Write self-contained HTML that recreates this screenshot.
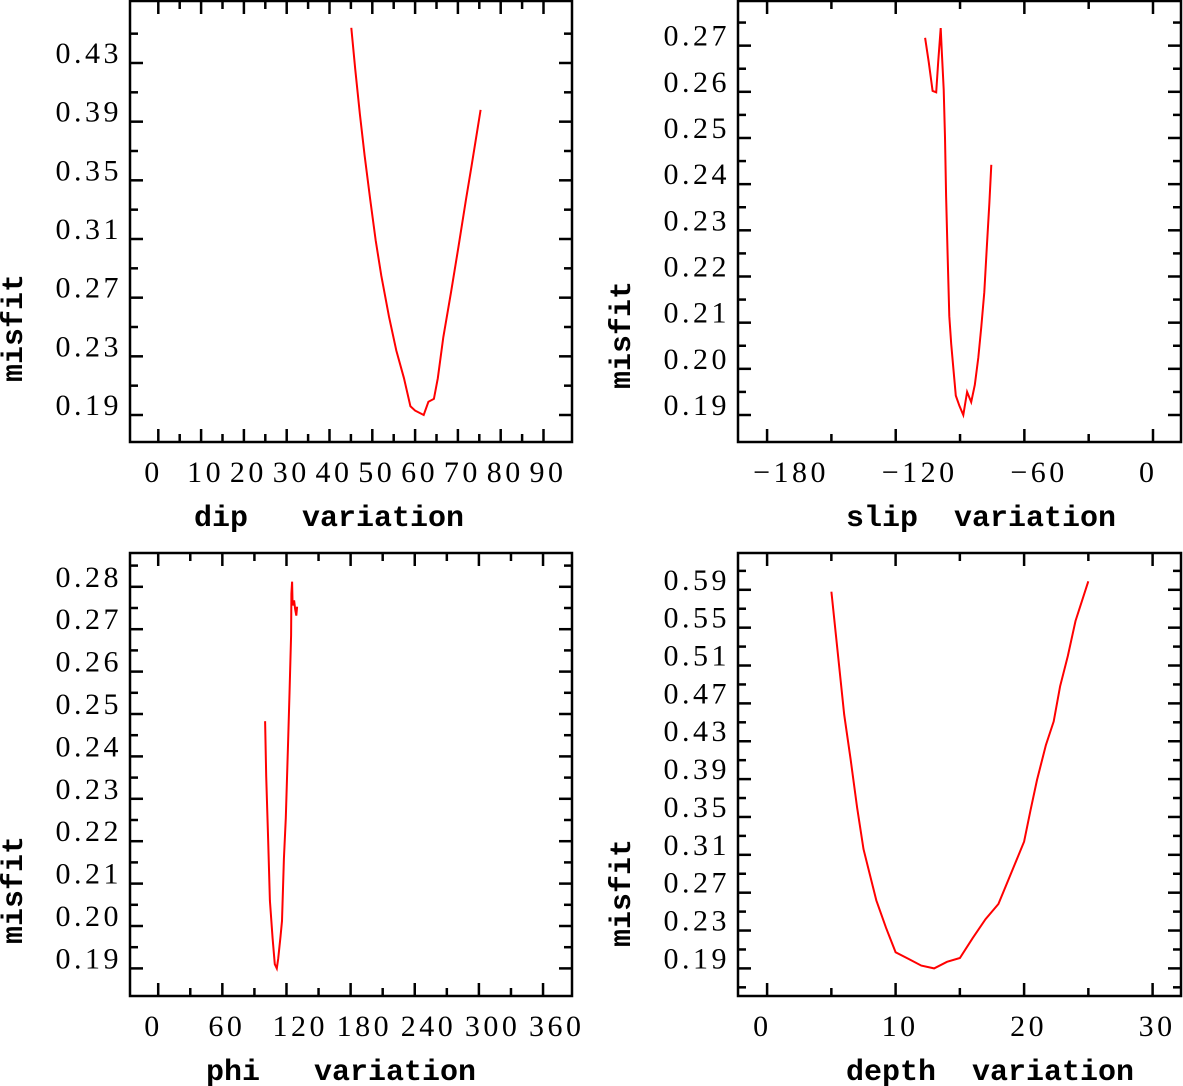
<!DOCTYPE html>
<html><head><meta charset="utf-8"><style>
html,body{margin:0;padding:0;background:#fff;}
svg{display:block;}
.tl{font-family:"Liberation Serif",serif;font-size:30px;fill:#000;letter-spacing:3.5px;}
.tt{font-family:"Liberation Mono",monospace;font-size:30px;font-weight:bold;fill:#000;white-space:pre;}
</style></head><body>
<svg id="fig" width="1183" height="1086" viewBox="0 0 1183 1086" xmlns="http://www.w3.org/2000/svg"></svg>
<script>
// Panel 1: dip variation
const dipX = [45.1,46.0,47.1,48.2,49.5,50.8,52.1,53.9,55.6,57.4,58.9,60.0,62.0,63.1,64.4,65.3,66.6,68.4,70.1,71.9,73.2,75.3];
const dipY = [0.454,0.426,0.395,0.367,0.337,0.309,0.285,0.257,0.234,0.215,0.196,0.193,0.190,0.199,0.201,0.215,0.243,0.274,0.304,0.337,0.360,0.398];
const dipXTicks = ["0","10","20","30","40","50","60","70","80","90"];
const dipYTicks = ["0.19","0.23","0.27","0.31","0.35","0.39","0.43"];
// Panel 2: slip variation
const slipX = [-106.3,-104.6,-102.8,-101.1,-100.2,-99.0,-98.5,-97.6,-97.0,-96.5,-95.8,-95.0,-94.1,-93.0,-92.0,-90.3,-88.5,-86.7,-84.8,-83.1,-81.5,-80.1,-78.7,-77.5,-76.3,-75.4];
const slipY = [0.2717,0.2665,0.2602,0.2599,0.2665,0.2738,0.2687,0.2605,0.2501,0.2374,0.2248,0.2114,0.2054,0.1995,0.1942,0.1920,0.1900,0.1950,0.1928,0.1965,0.2024,0.2091,0.2166,0.2263,0.2360,0.2442];
const slipXTicks = ["−180","−120","−60","0"];
const slipYTicks = ["0.19","0.20","0.21","0.22","0.23","0.24","0.25","0.26","0.27"];
// Panel 3: phi variation
const phiX = [100.0,101.0,102.8,104.5,107.0,109.1,110.9,112.3,114.4,115.8,117.6,119.4,121.4,122.8,124.3,124.6,125.3,125.7,127.1,128.1,129.2,129.9];
const phiY = [0.2483,0.2353,0.2207,0.2060,0.1971,0.1910,0.1900,0.1923,0.1975,0.2012,0.2158,0.2255,0.2426,0.2548,0.2686,0.2784,0.2812,0.2756,0.2768,0.2748,0.2732,0.2753];
const phiXTicks = ["0","60","120","180","240","300","360"];
const phiYTicks = ["0.19","0.20","0.21","0.22","0.23","0.24","0.25","0.26","0.27","0.28"];
// Panel 4: depth variation
const depthX = [5,6,6.5,7,7.5,8,8.5,9.25,10,11,12,13,14,15,16,17,18,19,20,20.5,21,21.7,22.3,22.8,23.4,24,25];
const depthY = [0.588,0.458,0.411,0.360,0.316,0.289,0.262,0.233,0.207,0.200,0.193,0.190,0.197,0.201,0.222,0.242,0.258,0.291,0.324,0.357,0.389,0.426,0.451,0.488,0.520,0.557,0.599];
const depthXTicks = ["0","10","20","30"];
const depthYTicks = ["0.19","0.23","0.27","0.31","0.35","0.39","0.43","0.47","0.51","0.55","0.59"];

const NS = "http://www.w3.org/2000/svg";
const svg = document.getElementById('fig');
function mk(tag, attrs, parent){ const e=document.createElementNS(NS,tag); for(const k in attrs) e.setAttribute(k,attrs[k]); (parent||svg).appendChild(e); return e; }

function panel(o){
  const g = mk('g',{});
  
  
  const xs = v => o.x0px + (v - o.x0v)*o.xk;
  const ys = v => o.y0px - (v - o.y0v)*o.yk;
  const tg = mk('g',{stroke:'#000','stroke-width':2.5},g);
  
  
  const xStart = Math.ceil((o.L - o.x0px)/o.xk/o.xMinor)*o.xMinor + o.x0v;
  for(let v=xStart; xs(v)<=o.R-8; v+=o.xMinor){
    const px=xs(v); if(px<o.L+8) continue;
    const maj = Math.abs(Math.round(v/o.xMajor)*o.xMajor - v) < 1e-6;
    const len = maj?13:8;
    mk('line',{x1:px,x2:px,y1:o.B,y2:o.B-len},tg);
    mk('line',{x1:px,x2:px,y1:o.T,y2:o.T+len},tg);
  }
  for(let i=-2;;i++){
    const v = o.y0v + i*o.yMinor; const py = ys(v);
    if(py<o.T+8) break; if(py>o.B-8) continue;
    const maj = i%2===0;
    const len = maj?13:8;
    mk('line',{x1:o.L,x2:o.L+len,y1:py,y2:py},tg);
    mk('line',{x1:o.R,x2:o.R-len,y1:py,y2:py},tg);
  }
  const fr = mk('rect',{x:o.L,y:o.T,width:o.R-o.L,height:o.B-o.T,fill:'none',stroke:'#000','stroke-width':2.5},g);
  
  
  o.xTicks.forEach(t=>{
    const v = parseFloat(t.replace('−','-'));
    const el = mk('text',{x:xs(v)-14,y:o.B+40,'class':'tl'},g);
    el.textContent = t;
    
    
  });
  o.yTicks.forEach(t=>{
    const v = parseFloat(t);
    const el = mk('text',{x:o.L-8,y:ys(v),'class':'tl','text-anchor':'end'},g);
    el.textContent = t;
    
    
  });
  const xt = mk('text',{x:o.xtX,y:o.B+84,'class':'tt'},g);
  xt.textContent = o.xTitle;
  
  
  const yt = mk('text',{x:0,y:0,'class':'tt','text-anchor':'middle',transform:`translate(${o.ytX},${o.ytY}) rotate(-90)`},g);
  yt.textContent = 'misfit';
  
  
  const pts = o.xd.map((v,i)=>xs(v).toFixed(1)+','+ys(o.yd[i]).toFixed(1)).join(' ');
  const pl = mk('polyline',{points:pts,fill:'none',stroke:'#ff0000','stroke-width':2},g);
  
  
}

panel({name:'dip',L:130,R:572,T:1,B:442,x0v:0,x0px:158.3,xk:4.28,xMinor:5,xMajor:10,
  y0v:0.19,y0px:415,yk:1466.7,yMinor:0.02,xTicks:dipXTicks,yTicks:dipYTicks,
  xd:dipX,yd:dipY,xTitle:'dip   variation',xtX:194,ytX:22,ytY:328});
panel({name:'slip',L:738,R:1181,T:1,B:442,x0v:0,x0px:1153,xk:2.144,xMinor:30,xMajor:60,
  y0v:0.19,y0px:415,yk:4617,yMinor:0.005,xTicks:slipXTicks,yTicks:slipYTicks,
  xd:slipX,yd:slipY,xTitle:'slip  variation',xtX:846,ytX:630,ytY:335});
panel({name:'phi',L:130,R:572,T:553,B:996,x0v:0,x0px:158.2,xk:1.069,xMinor:30,xMajor:60,
  y0v:0.19,y0px:968.4,yk:4240,yMinor:0.005,xTicks:phiXTicks,yTicks:phiYTicks,
  xd:phiX,yd:phiY,xTitle:'phi   variation',xtX:206,ytX:22,ytY:890});
panel({name:'depth',L:738,R:1181,T:553,B:996,x0v:0,x0px:767.1,xk:12.85,xMinor:5,xMajor:10,
  y0v:0.19,y0px:968.4,yk:946.5,yMinor:0.02,xTicks:depthXTicks,yTicks:depthYTicks,
  xd:depthX,yd:depthY,xTitle:'depth  variation',xtX:846,ytX:630,ytY:893});
</script>
</body></html>
